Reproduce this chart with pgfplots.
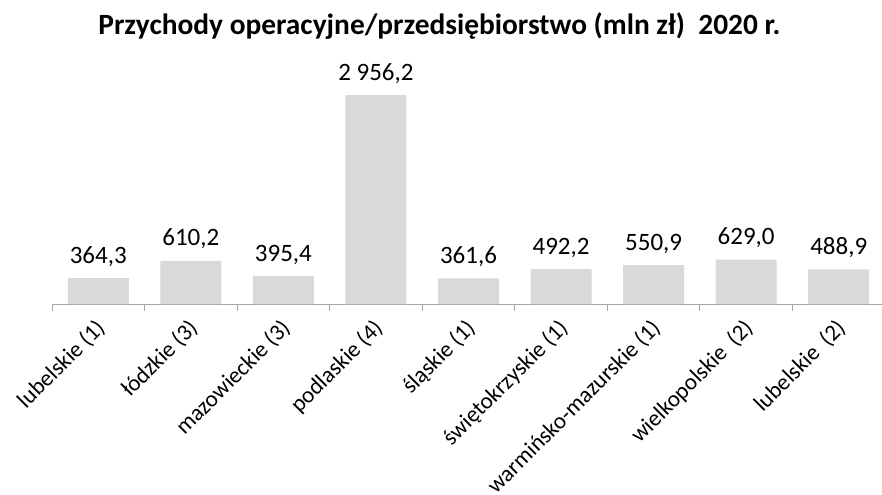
\documentclass[border=0pt]{standalone}
\usepackage{pgfplots}
\pgfplotsset{compat=1.18}
\usepackage{fontspec}
\setmainfont{Carlito}
\definecolor{barfill}{HTML}{D9D9D9}
\definecolor{axgrey}{HTML}{A6A6A6}
\begin{document}
\begin{tikzpicture}
\path[use as bounding box] (-52bp,-191bp) rectangle (830bp,304bp);
\begin{axis}[
  at={(0,0)}, anchor=south west,
  scale only axis,
  width=833bp, height=209bp,
  xmin=-0.5, xmax=8.5,
  ymin=0, ymax=2956.2,
  axis x line*=bottom,
  axis y line=none,
  axis line style={axgrey, line width=0.9bp, -},
  xtick={0,...,8},
  major tick length=0pt,
  minor xtick={-0.5,0.5,...,8.5},
  minor tick length=7bp,
  minor tick style={axgrey, line width=0.9bp},
  tick align=outside,
  xticklabels={lubelskie (1), łódzkie (3), mazowieckie (3), podlaskie (4), śląskie (1), świętokrzyskie (1), warmińsko-mazurskie (1), wielkopolskie\ \ (2), lubelskie\ \ (2)},
  xticklabel style={xshift=-4bp, yshift=-13bp, rotate=45, anchor=north east, inner sep=0pt, font=\fontsize{23bp}{26bp}\selectfont},
  ybar, bar width=61bp,
  clip=false,
  nodes near coords={\pgfmathprintnumber[fixed,fixed zerofill,precision=1,use comma,1000 sep={\ }]{\pgfplotspointmeta}},
  nodes near coords style={font=\fontsize{25bp}{28bp}\selectfont, anchor=base, yshift=15bp, /pgf/number format/assume math mode=true},
  title={\bfseries Przychody operacyjne/przedsiębiorstwo (mln zł)\ \ 2020 r.},
  title style={font=\fontsize{29.4bp}{32bp}\selectfont, at={(axis description cs:0.465,1)}, anchor=base, yshift=55bp},
]
\addplot[fill=barfill, draw=none] coordinates {
  (0,364.3) (1,610.2) (2,395.4) (3,2956.2) (4,361.6) (5,492.2) (6,550.9) (7,629.0) (8,488.9)
};
\end{axis}
\end{tikzpicture}
\end{document}
